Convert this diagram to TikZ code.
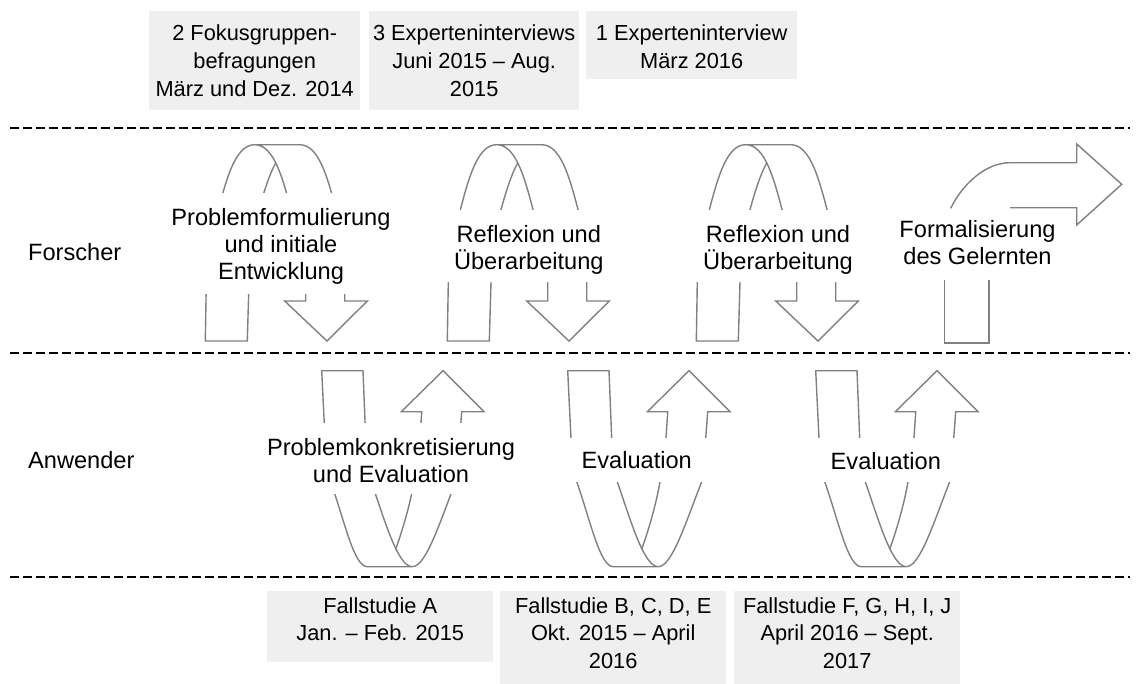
\documentclass[tikz,border=0pt]{standalone}
\usepackage{fontspec}
\setmainfont{Liberation Sans}
\definecolor{lncol}{RGB}{128,128,128}
\definecolor{boxfill}{RGB}{239,239,239}
\newcommand\TopLoopShape{%
 \draw[shape line] (456.5,225) -- (448.3,282) -- (447.3,341) -- (489.3,341) -- (491,282) -- (497,225) .. controls (503,201) and (510.6,174.7) .. (518,162.7);
 \draw[shape line] (456.5,225) .. controls (467.75,180) and (476.7,144.7) .. (496.7,144.7) -- (541.7,144.7) .. controls (561.7,144.7) and (570.65,180) .. (581.9,225) -- (586.7,282) -- (586.7,301) -- (609.3,301) -- (569,341) -- (526.7,301) -- (547.7,301) -- (547.7,282) -- (536.9,225) .. controls (525.6,180) and (516.7,144.7) .. (496.7,144.7);
}
\newcommand\BotLoopShape{%
 \draw[shape line] (576.7,481.7) -- (571,438.3) -- (567.7,370.7) -- (609,370.7) -- (611.7,438.3) -- (617.3,481.7) .. controls (631,521.7) and (644,566.7) .. (658.3,566.7) -- (613.3,566.7) .. controls (600,566.7) and (590.7,521.7) .. (576.7,481.7);
 \draw[shape line] (658.3,566.7) .. controls (672,566.7) and (686,521.7) .. (701.7,481.7) -- (705.7,438.3) -- (707.7,411.7) -- (730,411.7) -- (689,370.7) -- (647.3,411.7) -- (667.7,411.7) -- (666,438.3) -- (660,481.7) .. controls (656,505) and (648,532) .. (641.5,549.5);
}
\begin{document}
\begin{tikzpicture}[x=1pt,y=-1pt,
  shape line/.style={draw=lncol, line width=1.4pt, line join=miter},
  sep line/.style={draw=black, line width=2.5pt, dash pattern=on 9pt off 4pt},
  cover/.style={fill=white, draw=none},
  txt/.style={font=\fontsize{23.6}{27}\selectfont, align=center, inner sep=0pt},
  boxtxt/.style={font=\fontsize{21.8}{27.5}\selectfont, align=center, inner sep=0pt},
  infobox/.style={fill=boxfill, draw=none, inner sep=0pt},
]
\useasboundingbox (0,0) rectangle (1139,683);

% info boxes top
\node[infobox, minimum width=211pt, minimum height=99pt, anchor=north west] (q1) at (149,11) {};
\node[infobox, minimum width=210pt, minimum height=99pt, anchor=north west] (q2) at (369,11) {};
\node[infobox, minimum width=211pt, minimum height=68pt, anchor=north west] (q3) at (586,11) {};
\node[boxtxt, anchor=north] (q1t) at (q1.north |- 0,25) {2 Fokusgruppen-\\befragungen\\März und Dez. 2014};
\node[boxtxt, anchor=north] (q2t) at (q2.north |- 0,25) {3 Experteninterviews\\Juni 2015 – Aug.\\2015};
\node[boxtxt, anchor=north] (q3t) at (q3.north |- 0,25) {1 Experteninterview\\März 2016};

% info boxes bottom
\node[infobox, minimum width=226pt, minimum height=71pt, anchor=north west] (f1) at (267,591) {};
\node[infobox, minimum width=226pt, minimum height=99pt, anchor=north west] (f2) at (500,591) {};
\node[infobox, minimum width=226pt, minimum height=99pt, anchor=north west] (f3) at (734,591) {};
\node[boxtxt, anchor=north] (f1t) at (f1.north |- 0,597) {Fallstudie A\\Jan. – Feb. 2015};
\node[boxtxt, anchor=north] (f2t) at (f2.north |- 0,597) {Fallstudie B, C, D, E\\Okt. 2015 – April\\2016};
\node[boxtxt, anchor=north] (f3t) at (f3.north |- 0,597) {Fallstudie F, G, H, I, J\\April 2016 – Sept.\\2017};

% separators
\coordinate (s1a) at (10,128); \coordinate (s1b) at (1130,128);
\coordinate (s2a) at (10,353); \coordinate (s2b) at (1130,353);
\coordinate (s3a) at (10,577); \coordinate (s3b) at (1130,577);
\draw[sep line] (s1a) -- (s1b);
\draw[sep line] (s2a) -- (s2b);
\draw[sep line] (s3a) -- (s3b);

% loops researcher
\begin{scope}[xshift=-242pt]\TopLoopShape\end{scope}
\TopLoopShape
\begin{scope}[xshift=249pt]\TopLoopShape\end{scope}
% loops user
\begin{scope}[xshift=-246pt]\BotLoopShape\end{scope}
\BotLoopShape
\begin{scope}[xshift=248pt]\BotLoopShape\end{scope}
% final arrow
\draw[shape line] (944.3,280) -- (944.3,343) -- (989,343) -- (989,280);
\draw[shape line] (950.7,208.3) .. controls (962,185) and (985,162.7) .. (1010,162.7) -- (1076.7,162.7) -- (1076.7,144) -- (1121.7,184.3) -- (1076.7,225) -- (1076.7,207.7) -- (1010,207.7);

% covers behind labels
\fill[cover] (195,193) rectangle (378,294);
\fill[cover] (440,210) rectangle (616,282);
\fill[cover] (689,210) rectangle (865,282);
\fill[cover] (310,422.7) rectangle (495,494);
\fill[cover] (558,438.3) rectangle (742,481.7);
\fill[cover] (806,438.3) rectangle (990,481.7);

% labels
\node[txt, anchor=base west] (forscher) at (28,260) {Forscher};
\node[txt, anchor=base west] (anwender) at (28,468.3) {Anwender};
\node[txt, anchor=north] (l1) at (281,208) {Problemformulierung\\und initiale\\Entwicklung};
\node[txt, anchor=north] (l2) at (528.8,224.7) {Reflexion und\\Überarbeitung};
\node[txt, anchor=north] (l3) at (778,224.7) {Reflexion und\\Überarbeitung};
\node[txt, anchor=north] (l4) at (977.5,219.7) {Formalisierung\\des Gelernten};
\node[txt, anchor=north] (u1) at (391,438) {Problemkonkretisierung\\und Evaluation};
\node[txt, anchor=base] (u2) at (636.7,468.3) {Evaluation};
\node[txt, anchor=base] (u3) at (885.8,469.3) {Evaluation};
\end{tikzpicture}
\end{document}
